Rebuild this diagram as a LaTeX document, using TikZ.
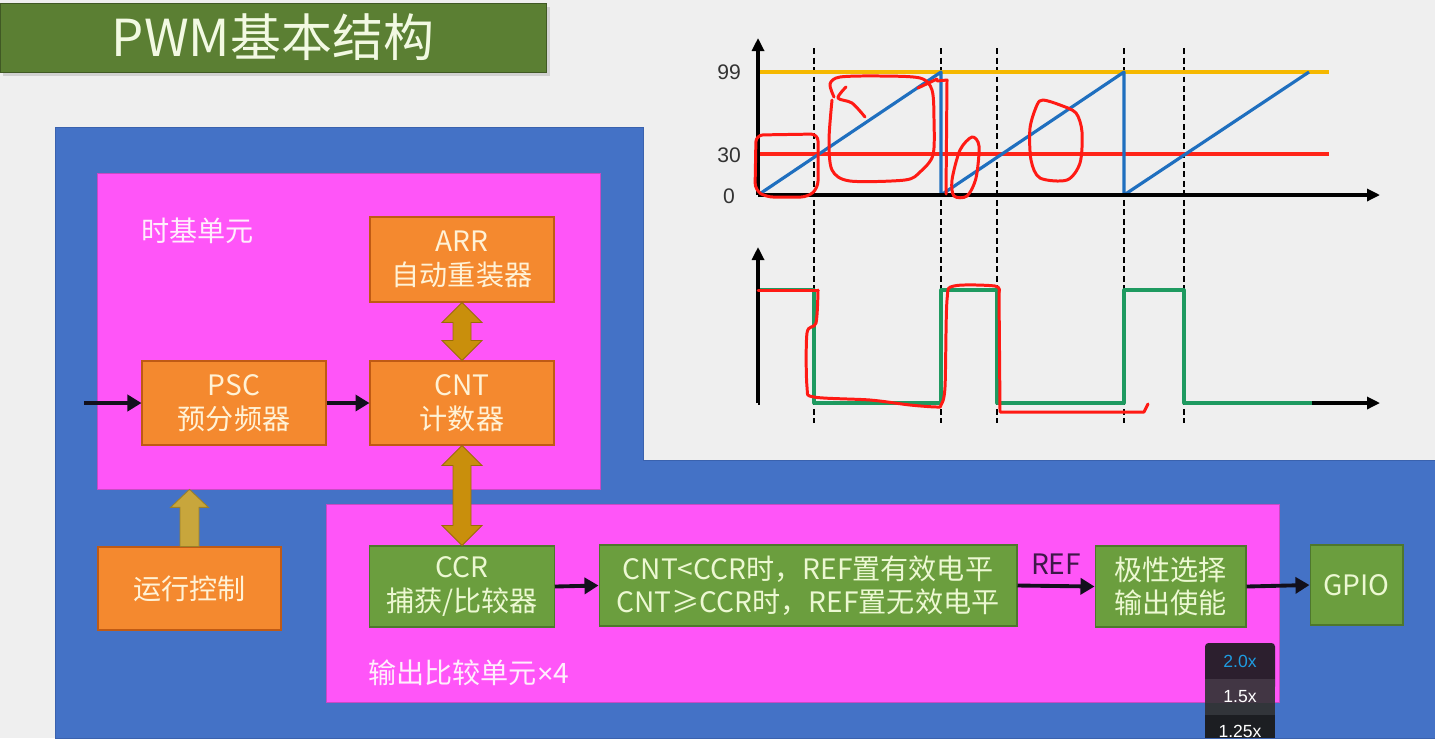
\documentclass[tikz,border=0pt]{standalone}
\usepackage{fontspec}
\newfontfamily\cjk{Noto Sans CJK SC}
\newfontfamily\arial{Liberation Sans}
\usetikzlibrary{arrows.meta,calc}
\definecolor{bgC}{HTML}{EFEFEF}
\definecolor{blueC}{HTML}{4472C6}
\definecolor{blueB}{HTML}{3A62AE}
\definecolor{magC}{HTML}{FF55F8}
\definecolor{magB}{HTML}{C84AC4}
\definecolor{orangeC}{HTML}{F4892F}
\definecolor{orangeB}{HTML}{C05A14}
\definecolor{creamT}{HTML}{FFF2D6}
\definecolor{greenC}{HTML}{6B9E3E}
\definecolor{greenB}{HTML}{4E772C}
\definecolor{greenT}{HTML}{ECF8D2}
\definecolor{titleC}{HTML}{5B7F33}
\definecolor{titleT}{HTML}{F2F9E2}
\definecolor{goldC}{HTML}{C98F0C}
\definecolor{goldB}{HTML}{9A6C08}
\definecolor{khakiC}{HTML}{C8A63C}
\definecolor{khakiB}{HTML}{9C8028}
\definecolor{lblT}{HTML}{FFEEFC}
\definecolor{refT}{HTML}{3E1848}
\definecolor{arrK}{HTML}{12101C}
\definecolor{yelC}{HTML}{F5B800}
\definecolor{redC}{HTML}{FF2418}
\definecolor{sawC}{HTML}{1F6FBF}
\definecolor{sqC}{HTML}{1E9A60}
\definecolor{annoR}{HTML}{FF1A14}
\definecolor{numT}{HTML}{333333}
\begin{document}
\begin{tikzpicture}[x=0.02cm,y=-0.02cm,
  obox/.style={fill=orangeC, draw=orangeB, line width=0.6pt, text=creamT,
    font=\cjk\fontsize{16}{19}\selectfont, align=center, inner sep=0pt},
  gbox/.style={fill=greenC, draw=greenB, line width=0.6pt, text=greenT,
    font=\cjk\fontsize{16}{19}\selectfont, align=center, inner sep=0pt},
  region/.style={fill=magC, draw=magB, line width=0.5pt, inner sep=0pt},
  lbl/.style={text=lblT, font=\cjk\fontsize{16}{19}\selectfont, inner sep=0pt},
  blk/.style={draw=arrK, line width=2.2pt, -{Triangle[length=0.28cm,width=0.32cm]}},
  dblarr/.style={fill=goldC, draw=goldB, line width=0.5pt},
  uparr/.style={fill=khakiC, draw=khakiB, line width=0.5pt},
  ax/.style={draw=black, line width=1.8pt, -{Triangle[length=0.26cm,width=0.24cm]}},
  vdash/.style={draw=black, line width=1.2pt, dash pattern=on 0.12cm off 0.07cm},
  anno/.style={draw=annoR, line width=1.7pt, line cap=round, line join=round},
  num/.style={text=numT, font=\arial\fontsize{12}{14}\selectfont, inner sep=0pt},
  spd/.style={font=\arial\fontsize{10}{12}\selectfont, inner sep=0pt}
]
\useasboundingbox (0,0) rectangle (1435,738);
\fill[bgC] (0,0) rectangle (1435,738);

% title
\fill[black!18] (3,7) rectangle (550,76);
\node[fill=titleC, draw=titleC!70!black, line width=0.5pt, minimum width=10.92cm, minimum height=1.38cm,
  text=titleT, font=\cjk\fontsize{29}{34}\selectfont, inner sep=0pt] (title) at (273,37.5) {PWM基本结构};

% blue background
\fill[blueC, draw=blueB, line width=0.5pt] (55,127) -- (643,127) -- (643,460) -- (1435,460) -- (1435,738) -- (55,738) -- cycle;

% regions
\node[region, minimum width=10.06cm, minimum height=6.32cm] (tb) at (348.5,331) {};
\node[region, minimum width=19.08cm, minimum height=3.96cm] (oc) at (803,603) {};
\node[lbl, anchor=west] (tbl) at (141,231) {时基单元};
\node[lbl, anchor=west] (ocl) at (368,673) {输出比较单元{\arial ×}4};

% boxes
\node[obox, minimum width=3.68cm, minimum height=1.70cm] (arr) at (462,259.5) {ARR\\自动重装器};
\node[obox, minimum width=3.68cm, minimum height=1.68cm] (psc) at (234,403) {PSC\\预分频器};
\node[obox, minimum width=3.68cm, minimum height=1.68cm] (cnt) at (462,403) {CNT\\计数器};
\node[obox, minimum width=3.66cm, minimum height=1.66cm] (run) at (189.5,588.5) {运行控制};
\node[gbox, minimum width=3.70cm, minimum height=1.62cm] (ccr) at (462,586.5) {CCR\\捕获/比较器};
\node[gbox, minimum width=8.36cm, minimum height=1.62cm] (cmp) at (808,585.5) {CNT<CCR时，REF置有效电平\\CNT≥CCR时，REF置无效电平};
\node[gbox, minimum width=3.02cm, minimum height=1.62cm] (pol) at (1170.5,586.5) {极性选择\\输出使能};
\node[gbox, minimum width=1.86cm, minimum height=1.60cm] (gpio) at (1356.5,585) {GPIO};

% black arrows
\coordinate (in) at (84,403);
\draw[blk] (in) -- (psc.west);
\draw[blk] (psc.east) -- (cnt.west);
\draw[blk] (ccr.east) -- (cmp.west);
\draw[blk] (cmp.east) -- node[above=0.2cm, inner sep=0pt, text=refT, font=\cjk\fontsize{16}{19}\selectfont] (ref) {REF} (pol.west);
\draw[blk] (pol.east) -- (gpio.west);

% double arrows
\filldraw[dblarr] (arr.south) -- ($(arr.south)+(20,20)$) -- ($(arr.south)+(9,20)$) -- ($(cnt.north)+(9,-20)$)
  -- ($(cnt.north)+(20,-20)$) -- (cnt.north) -- ($(cnt.north)+(-20,-20)$) -- ($(cnt.north)+(-9,-20)$)
  -- ($(arr.south)+(-9,20)$) -- ($(arr.south)+(-20,20)$) -- cycle;
\filldraw[dblarr] (cnt.south) -- ($(cnt.south)+(20,20)$) -- ($(cnt.south)+(9,20)$) -- ($(ccr.north)+(9,-20)$)
  -- ($(ccr.north)+(20,-20)$) -- (ccr.north) -- ($(ccr.north)+(-20,-20)$) -- ($(ccr.north)+(-9,-20)$)
  -- ($(cnt.south)+(-9,20)$) -- ($(cnt.south)+(-20,20)$) -- cycle;
% up arrow
\coordinate (ut) at (run.north |- tb.south);
\filldraw[uparr] (ut) -- ($(ut)+(19,18)$) -- ($(ut)+(9.5,18)$) -- ($(run.north)+(9.5,0)$)
  -- ($(run.north)+(-9.5,0)$) -- ($(ut)+(-9.5,18)$) -- ($(ut)+(-19,18)$) -- cycle;

% ===== chart =====
\foreach \x in {814,941,997,1124,1184} \draw[vdash] (\x,48) -- (\x,423);
% upper plot
\draw[yelC, line width=2.2pt] (758,72) -- (1329,72);
\draw[redC, line width=1.8pt] (758,154) -- (1329,154);
\draw[sawC, line width=1.8pt, line join=round] (758,195) -- (941,72) -- (941,195) -- (1124,72) -- (1124,195) -- (1309,72);
\coordinate (o1) at (758,195);
\draw[ax] (o1) -- (758,38);
\draw[ax] (o1) -- (1380,195);
\node[num] (n99) at (729,72) {99};
\node[num] (n30) at (729,155) {30};
\node[num] (n0) at (729,196) {0};
% lower plot
\draw[sqC, line width=1.8pt, line join=round] (758,290) -- (814,290) -- (814,403) -- (941,403) -- (941,290) -- (997,290) -- (997,403)
  -- (1124,403) -- (1124,290) -- (1184,290) -- (1184,403) -- (1312,403);
\coordinate (o2) at (758,403);
\draw[ax] (o2) -- (758,247);
\draw[ax] (1312,403) -- (1380,403);
\draw[black, line width=1.8pt] (o2) -- (760,403);

% red annotations
\draw[anno, rounded corners=4pt] (756,135) -- (818,134) -- (818,188) -- (808,197) -- (766,197) -- (755,190) -- cycle;
\draw[anno] plot[smooth] coordinates {(834,97) (830,84) (840,77) (880,76) (920,78) (932,90) (934,120) (933,155) (920,172) (905,180) (850,181) (832,170) (829,140) (832,100)};
\draw[anno] plot[smooth] coordinates {(846,87) (838,98) (852,103) (865,117)};
\draw[anno] (918,88) -- (937,79);
\draw[anno] (937,81) -- (947,80) -- (946,194);
\draw[anno] plot[smooth cycle] coordinates {(972,137) (979,146) (976,178) (967,196) (954,196) (952,180) (960,150)};
\draw[anno] plot[smooth cycle] coordinates {(1043,100) (1060,105) (1076,113) (1082,132) (1080,163) (1067,180) (1040,178) (1031,160) (1030,128) (1037,105)};
\draw[anno] (758,290) -- (818,290);
\draw[anno] plot[smooth] coordinates {(818,290) (816,323) (807,333) (807,387) (814,397) (870,400) (910,405) (937,407) (941,405) (945,387) (947,300) (954,286) (995,286) (999,292)};
\draw[anno] (999,292) -- (1000,412) -- (1144,412) -- (1148,404);

% speed overlay
\begin{scope}
\clip (1205,643) rectangle (1275,738);
\fill[fill={rgb,255:red,44;green,31;blue,46}, rounded corners=2pt] (1205,643) rectangle (1275,690);
\fill[fill={rgb,255:red,44;green,31;blue,46}] (1205,670) rectangle (1275,679);
\fill[fill={rgb,255:red,66;green,54;blue,68}] (1205,679) rectangle (1275,703);
\fill[fill={rgb,255:red,50;green,53;blue,58}] (1205,703) rectangle (1275,715);
\fill[fill={rgb,255:red,28;green,30;blue,34}] (1205,715) rectangle (1275,738);
\node[spd, text={rgb,255:red,30;green,155;blue,224}] (s20) at (1240,661) {2.0x};
\node[spd, text=white] (s15) at (1240,697) {1.5x};
\node[spd, text=white] (s125) at (1240,731) {1.25x};
\end{scope}
\end{tikzpicture}
\end{document}
